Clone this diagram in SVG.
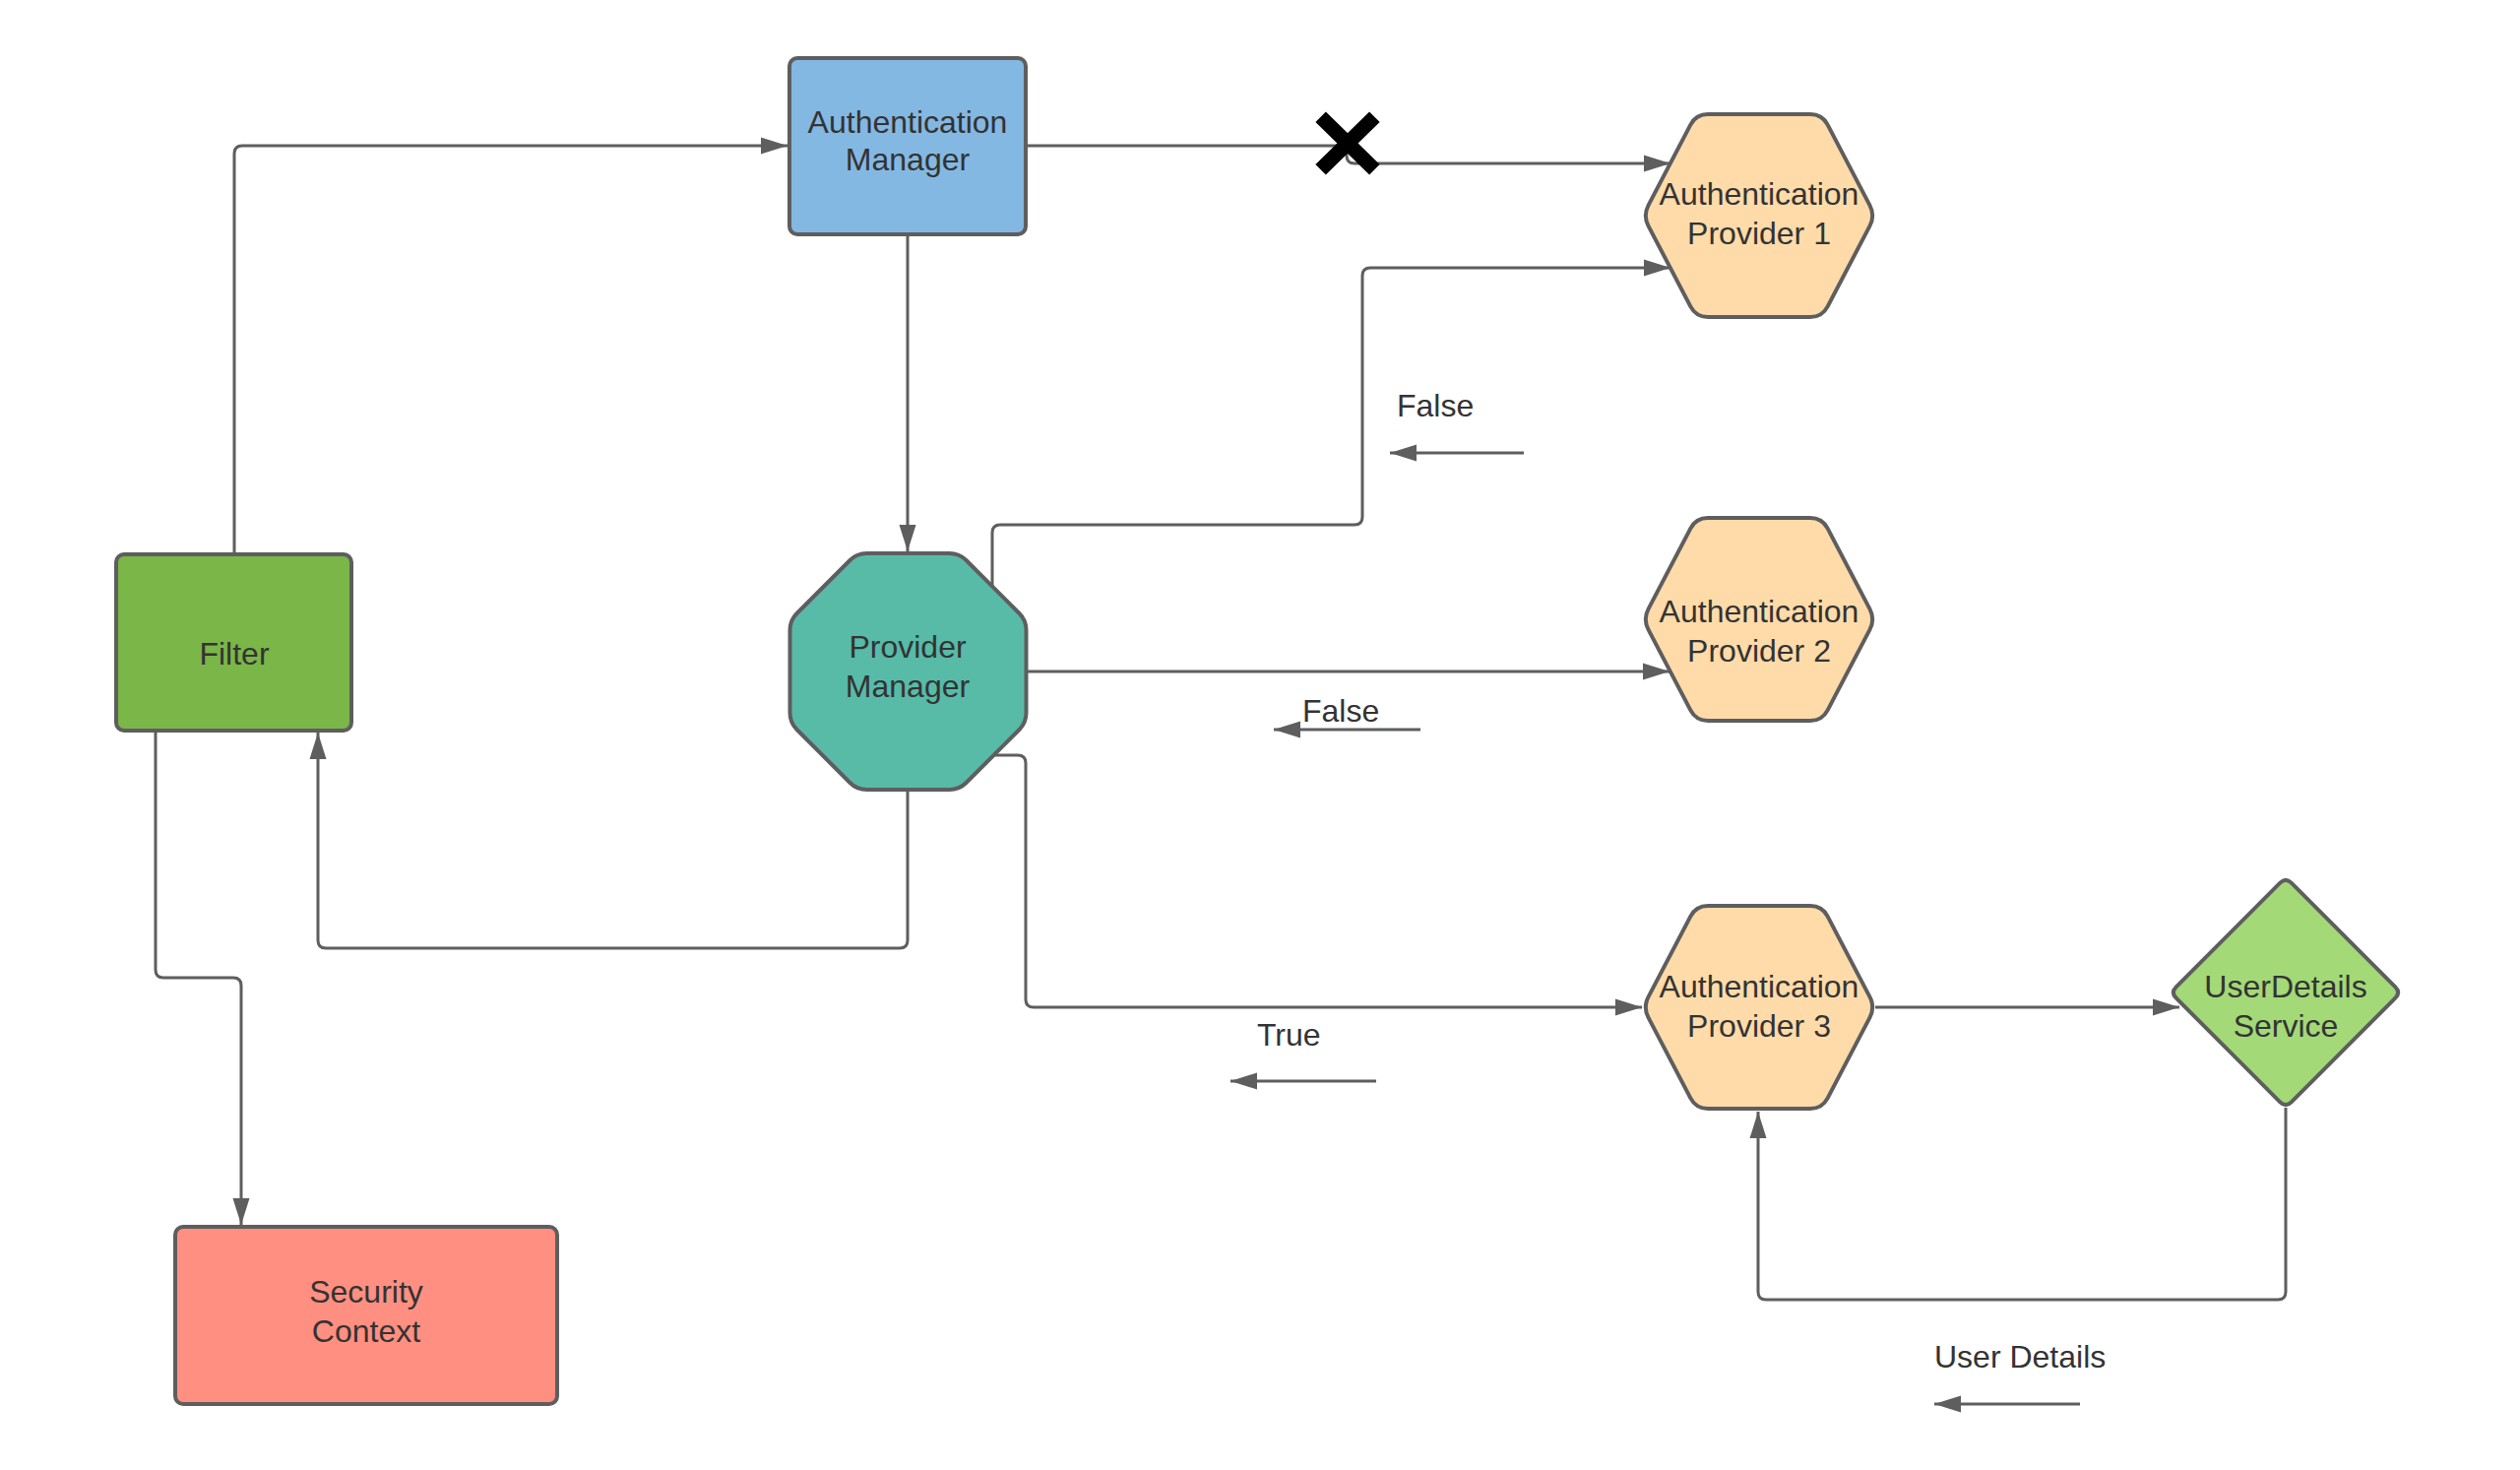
<svg xmlns="http://www.w3.org/2000/svg" width="2560" height="1493" viewBox="0 0 2560 1493">
<style>
.node{stroke:#5e5e5e;stroke-width:4;stroke-linejoin:round}
.t{font-family:"Liberation Sans",Arial,sans-serif;font-size:32px;fill:#333333}
.c{text-anchor:middle}
.conn{fill:none;stroke:#5e5e5e;stroke-width:3;stroke-linejoin:round}
</style>
<defs>
<marker id="ah" markerUnits="userSpaceOnUse" markerWidth="28" markerHeight="18" refX="27" refY="9" orient="auto">
<path d="M0,0.5 L27,9 L0,17.5 Z" fill="#5e5e5e"/>
</marker>
<path id="hex" d="M-112.4,-10.6 L-69.6,-92.4 Q-64,-103 -52,-103 L52,-103 Q64,-103 69.6,-92.4 L112.4,-10.6 Q118,0 112.4,10.6 L69.6,92.4 Q64,103 52,103 L-52,103 Q-64,103 -69.6,92.4 L-112.4,10.6 Q-118,0 -112.4,-10.6 Z"/>
</defs>
<rect width="2560" height="1493" fill="#ffffff"/>

<g id="authentication-manager">
<rect class="node" x="802" y="59" width="240" height="179" rx="8" fill="#83b8e2"/>
<text class="t c" x="922" y="135">Authentication</text>
<text class="t c" x="922" y="173">Manager</text>
</g>

<g id="filter">
<rect class="node" x="118" y="563" width="239" height="179" rx="8" fill="#7ab648"/>
<text class="t c" x="238" y="675">Filter</text>
</g>

<g id="provider-manager">
<path class="node" fill="#57bba8" transform="translate(922.5,682)" d="M-42,-120 L42,-120 Q52,-120 59,-113 L113,-59 Q120,-52 120,-42 L120,42 Q120,52 113,59 L59,113 Q52,120 42,120 L-42,120 Q-52,120 -59,113 L-113,59 Q-120,52 -120,42 L-120,-42 Q-120,-52 -113,-59 L-59,-113 Q-52,-120 -42,-120 Z"/>
<text class="t c" x="922" y="668">Provider</text>
<text class="t c" x="922" y="708">Manager</text>
</g>

<g id="security-context">
<rect class="node" x="178" y="1246" width="388" height="180" rx="8" fill="#ff8f80"/>
<text class="t c" x="372" y="1323">Security</text>
<text class="t c" x="372" y="1363">Context</text>
</g>

<g id="authentication-provider-1">
<use href="#hex" class="node" fill="#ffdba9" transform="translate(1787,219)"/>
<text class="t c" x="1787" y="208">Authentication</text>
<text class="t c" x="1787" y="248">Provider 1</text>
</g>

<g id="authentication-provider-2">
<use href="#hex" class="node" fill="#ffdba9" transform="translate(1787,629)"/>
<text class="t c" x="1787" y="632">Authentication</text>
<text class="t c" x="1787" y="672">Provider 2</text>
</g>

<g id="authentication-provider-3">
<use href="#hex" class="node" fill="#ffdba9" transform="translate(1787,1023)"/>
<text class="t c" x="1787" y="1013">Authentication</text>
<text class="t c" x="1787" y="1053">Provider 3</text>
</g>

<g id="userdetails-service">
<path class="node" fill="#a3d977" transform="translate(2322,1008)" d="M-5.7,-111.3 Q0,-117 5.7,-111.3 L111.3,-5.7 Q117,0 111.3,5.7 L5.7,111.3 Q0,117 -5.7,111.3 L-111.3,5.7 Q-117,0 -111.3,-5.7 Z"/>
<text class="t c" x="2322" y="1013">UserDetails</text>
<text class="t c" x="2322" y="1053">Service</text>
</g>

<g id="connectors">
<path class="conn" marker-end="url(#ah)" d="M238,563 V156 Q238,148 246,148 H800"/>
<path class="conn" marker-end="url(#ah)" d="M1042,148 H1360 Q1368,148 1368,156 V158 Q1368,166 1376,166 H1697"/>
<path class="conn" marker-end="url(#ah)" d="M922,238 V560"/>
<path class="conn" marker-end="url(#ah)" d="M1008,596 V541 Q1008,533 1016,533 H1376 Q1384,533 1384,525 V280 Q1384,272 1392,272 H1697"/>
<path class="conn" marker-end="url(#ah)" d="M1042,682 H1696"/>
<path class="conn" marker-end="url(#ah)" d="M1009,767 H1034 Q1042,767 1042,775 V1015 Q1042,1023 1050,1023 H1668"/>
<path class="conn" marker-end="url(#ah)" d="M922,802 V955 Q922,963 914,963 H331 Q323,963 323,955 V744"/>
<path class="conn" marker-end="url(#ah)" d="M158,742 V985 Q158,993 166,993 H237 Q245,993 245,1001 V1244"/>
<path class="conn" marker-end="url(#ah)" d="M1905,1023 H2214"/>
<path class="conn" marker-end="url(#ah)" d="M2322,1125 V1312 Q2322,1320 2314,1320 H1794 Q1786,1320 1786,1312 V1129"/>
<path class="conn" marker-end="url(#ah)" d="M1548,460 H1412"/>
<path class="conn" marker-end="url(#ah)" d="M1443,741 H1294"/>
<path class="conn" marker-end="url(#ah)" d="M1398,1098 H1250"/>
<path class="conn" marker-end="url(#ah)" d="M2113,1426 H1965"/>
</g>

<g id="cross-mark" stroke="#000000" stroke-width="15" stroke-linecap="square">
<line x1="1347" y1="124" x2="1391" y2="167"/>
<line x1="1391" y1="124" x2="1347" y2="167"/>
</g>

<g id="labels">
<text class="t" x="1419" y="423">False</text>
<text class="t" x="1323" y="733">False</text>
<text class="t" x="1277" y="1062">True</text>
<text class="t" x="1965" y="1389">User Details</text>
</g>
</svg>
